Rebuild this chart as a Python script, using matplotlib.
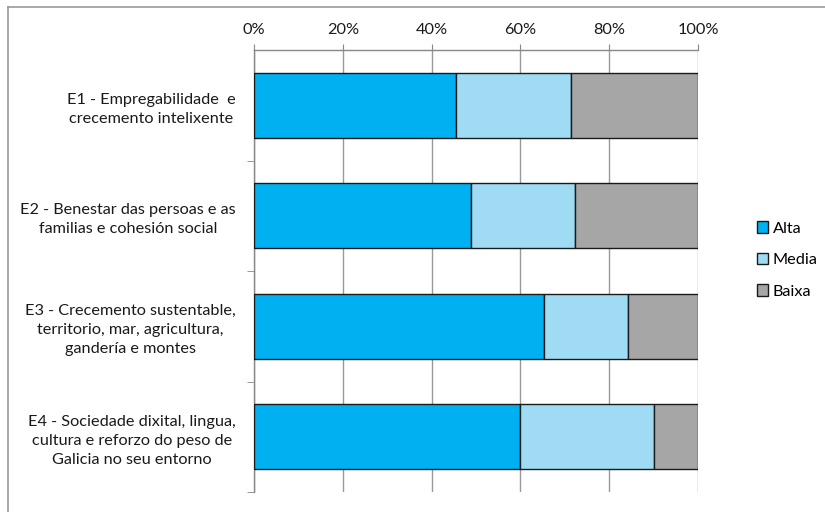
import matplotlib
matplotlib.use("Agg")
import matplotlib.pyplot as plt
from matplotlib.lines import Line2D
import numpy as np

categories = [
    "E1 - Empregabilidade  e\ncrecemento intelixente",
    "E2 - Benestar das persoas e as\nfamilias e cohesión social",
    "E3 - Crecemento sustentable,\nterritorio, mar, agricultura,\ngandería e montes",
    "E4 - Sociedade dixital, lingua,\ncultura e reforzo do peso de\nGalicia no seu entorno",
]
alta = [45.6, 48.8, 65.4, 59.9]
media = [25.8, 23.6, 18.8, 30.1]
baixa = [28.6, 27.6, 15.8, 10.0]
series_names = ["Alta", "Media", "Baixa"]
colors = ["#00B0F0", "#9FDCF3", "#A6A6A6"]
xticks = [0, 20, 40, 60, 80, 100]
xticklabels = ["0%", "20%", "40%", "60%", "80%", "100%"]

plt.rcParams["font.family"] = ["Lato", "DejaVu Sans"]
fig = plt.figure(figsize=(8.25, 5.12), dpi=100)
ax = fig.add_axes([254 / 825, 1 - 492 / 512, 444 / 825, 442 / 512])

y = np.arange(len(categories))
left = np.zeros(len(categories))
for vals, name, c in zip([alta, media, baixa], series_names, colors):
    ax.barh(y, vals, left=left, height=0.59, color=c, edgecolor="#1a1a1a",
            linewidth=1.0, label=name, zorder=3)
    left = left + np.array(vals)

ax.set_xlim(0, 100)
ax.set_ylim(3.5, -0.5)
ax.xaxis.tick_top()
ax.set_xticks(xticks)
ax.set_xticklabels(xticklabels, fontsize=11.7, color="#1a1a1a")
ax.tick_params(axis="x", length=4, color="#888888", pad=5, top=True, bottom=False)
ax.grid(axis="x", color="#999999", linewidth=1.0, zorder=0)
ax.set_yticks(y)
ax.set_yticklabels(categories, fontsize=11.7, color="#1a1a1a",
                   multialignment="center", linespacing=1.45)
ax.tick_params(axis="y", length=0, pad=13)
ax.set_yticks([0.5, 1.5, 2.5, 3.5], minor=True)
ax.tick_params(axis="y", which="minor", length=5, color="#888888")
for s in ["right", "bottom"]:
    ax.spines[s].set_visible(False)
for s in ["top", "left"]:
    ax.spines[s].set_color("#888888")
    ax.spines[s].set_linewidth(1.0)

handles = [plt.Rectangle((0, 0), 1, 1, facecolor=c, edgecolor="#1a1a1a", linewidth=1.0)
           for c in colors]
fig.legend(handles, series_names, loc="center left", bbox_to_anchor=(742 / 825, 1 - 260 / 512),
           frameon=False, fontsize=11.7, handlelength=0.7, handleheight=0.7,
           handletextpad=0.3, labelspacing=1.05)

# outer chart border (top and left visible)
fig.add_artist(Line2D([8 / 825, 1.0], [1 - 7 / 512, 1 - 7 / 512], transform=fig.transFigure,
                      color="#999999", linewidth=1.2))
fig.add_artist(Line2D([8 / 825, 8 / 825], [0.0, 1 - 7 / 512], transform=fig.transFigure,
                      color="#999999", linewidth=1.2))

fig.savefig("out.png", dpi=100)
